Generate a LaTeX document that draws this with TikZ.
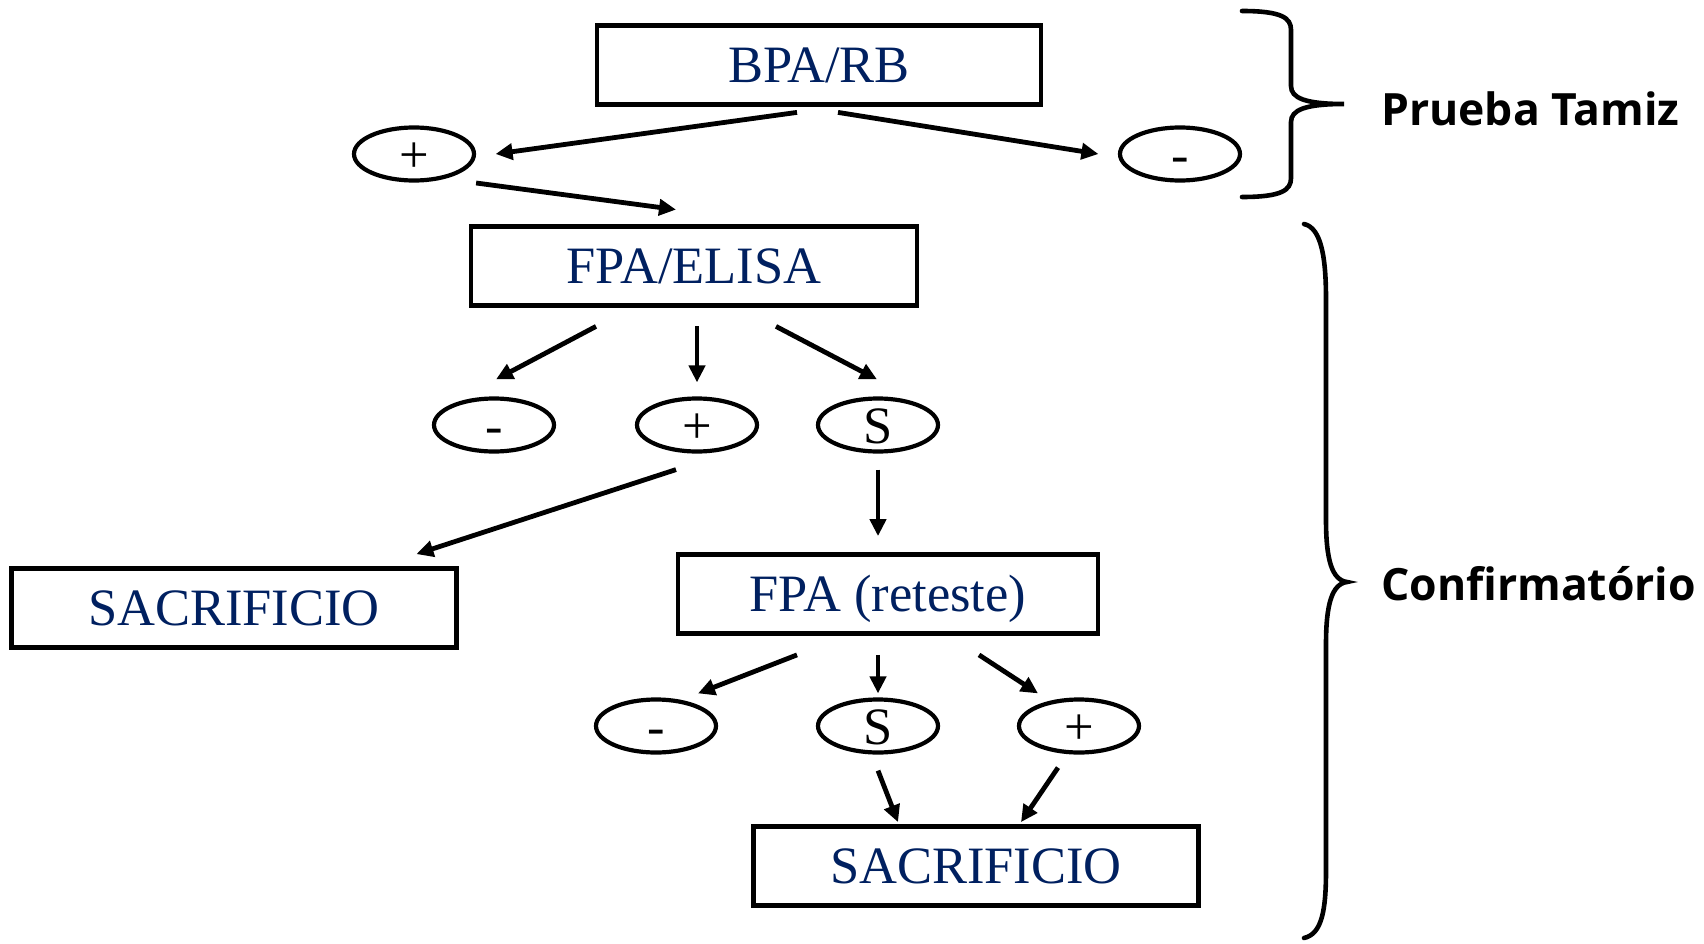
\documentclass[tikz,border=0pt]{standalone}
\usepackage{fontspec}
\usetikzlibrary{positioning,shapes.geometric,arrows.meta}
\newfontfamily\boxfont{Liberation Serif}
\newfontfamily\labelfont{Open Sans}
\definecolor{navyblue}{HTML}{002060}

\begin{document}
\begin{tikzpicture}[
  x=1pt,y=-1pt,
  testbox/.style={
    rectangle,
    draw=black,
    line width=4.8pt,
    inner sep=0pt,
    minimum width=444pt,
    minimum height=79pt,
    text height=35pt,
    text depth=0pt,
    text=navyblue,
    font=\boxfont\fontsize{52.5}{56}\selectfont
  },
  result/.style={
    ellipse,
    draw=black,
    line width=4.2pt,
    inner sep=0pt,
    minimum width=120pt,
    minimum height=53pt,
    text height=37pt,
    text depth=0pt,
    font=\boxfont\fontsize{52.5}{56}\selectfont
  },
  arr/.style={
    line width=4.8pt,
    -{Triangle[length=17pt,width=16pt]}
  },
  brace/.style={
    line width=4.6pt,
    line cap=round
  },
  stage/.style={
    anchor=west,
    inner sep=0pt,
    font=\labelfont\bfseries\fontsize{44.5}{50}\selectfont
  }]
  \useasboundingbox (0,0) rectangle (1704,944);

  % screening
  \node[testbox] (bpa) at (819,65) {BPA/RB};
  \node[result] (pos1) at (414,154) {+};
  \node[result] (neg1) at (1180,154) {-};

  % confirmation
  \node[testbox,minimum width=446pt] (elisa) at (694,266) {FPA/ELISA};
  \node[result] (neg2) at (494,425) {-};
  \node[result] (pos2) at (697,425) {+};
  \node[result] (sus2) at (878,425) {S};
  \node[testbox,minimum width=445pt] (sacr1) at (234,608) {SACRIFICIO};
  \node[testbox,minimum width=420pt] (retest) at (888,594) {FPA (reteste)};
  \node[result] (neg3) at (656,726) {-};
  \node[result] (sus3) at (878,726) {S};
  \node[result] (pos3) at (1079,726) {+};
  \node[testbox,minimum width=445pt] (sacr2) at (976,866) {SACRIFICIO};

  \draw[arr] ([xshift=-22pt,yshift=-5.5pt]bpa.south) -- ([xshift=19.5pt]pos1.east);
  \draw[arr] ([xshift=19pt,yshift=-5.5pt]bpa.south) -- ([xshift=-19.5pt]neg1.west);
  \draw[arr] ([yshift=-29pt]pos1.east) -- ([xshift=-18pt,yshift=14.5pt]elisa.north);

  \draw[arr] ([xshift=-98pt,yshift=-18.5pt]elisa.south) -- ([xshift=2pt,yshift=17pt]neg2.north);
  \draw[arr] ([xshift=3pt,yshift=-18.5pt]elisa.south) -- ([yshift=14pt]pos2.north);
  \draw[arr] ([xshift=82pt,yshift=-18.5pt]elisa.south) -- ([xshift=-1pt,yshift=17pt]sus2.north);
  \draw[arr] ([xshift=-21pt,yshift=-16pt]pos2.south) -- ([xshift=-42.5pt,yshift=12pt]sacr1.north east);
  \draw[arr] ([yshift=-16pt]sus2.south) -- ([xshift=-10pt,yshift=16pt]retest.north);

  \draw[arr] ([xshift=-91pt,yshift=-19pt]retest.south) -- ([xshift=42pt,yshift=4pt]neg3.north);
  \draw[arr] ([xshift=-10pt,yshift=-19pt]retest.south) -- ([yshift=4pt]sus3.north);
  \draw[arr] ([xshift=91pt,yshift=-19pt]retest.south) -- ([xshift=-41pt,yshift=4pt]pos3.north);
  \draw[arr] ([yshift=-16pt]sus3.south) -- ([xshift=-78pt,yshift=2pt]sacr2.north);
  \draw[arr] ([xshift=-21pt,yshift=-13pt]pos3.south) -- ([xshift=45pt,yshift=2pt]sacr2.north);

  % braces
  \draw[brace] (1242,11) .. controls (1282,11) and (1291,18) .. (1291,30) -- (1291,86)
    .. controls (1291,98) and (1305,104) .. (1344,104)
    .. controls (1305,104) and (1291,110) .. (1291,122) -- (1291,178)
    .. controls (1291,190) and (1282,197) .. (1242,197);
  \draw[brace] (1304,224) .. controls (1322,228) and (1326,260) .. (1326,300) -- (1326,520)
    .. controls (1326,560) and (1332,580) .. (1347,582)
    .. controls (1332,584) and (1326,604) .. (1326,644) -- (1326,870)
    .. controls (1326,910) and (1322,934) .. (1304,938);
  \node[stage] (screen) at (1381,109) {Prueba Tamiz};
  \node[stage] (confirm) at (1381,584) {Confirmatório};
\end{tikzpicture}
\end{document}
